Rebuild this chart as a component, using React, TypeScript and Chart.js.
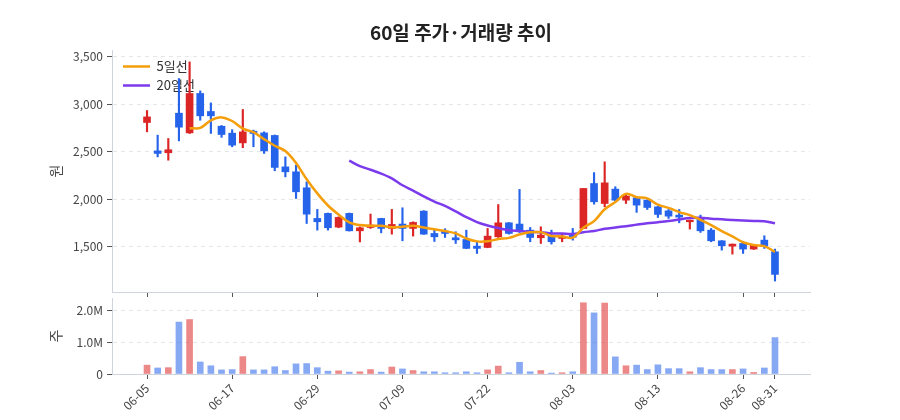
import React, { useEffect, useRef } from "react";
import { Chart, registerables } from "chart.js";

Chart.register(...registerables);

const dates = [
  "06-05", "06-08", "06-09", "06-10", "06-11", "06-12", "06-15", "06-16", "06-17", "06-18",
  "06-19", "06-22", "06-23", "06-24", "06-25", "06-26", "06-29", "06-30", "07-01", "07-02",
  "07-03", "07-06", "07-07", "07-08", "07-09", "07-10", "07-13", "07-14", "07-15", "07-16",
  "07-20", "07-21", "07-22", "07-23", "07-24", "07-27", "07-28", "07-29", "07-30", "07-31",
  "08-03", "08-04", "08-05", "08-06", "08-07", "08-10", "08-11", "08-12", "08-13", "08-14",
  "08-18", "08-19", "08-20", "08-21", "08-24", "08-25", "08-26", "08-27", "08-28", "08-31",
];

const opens = [
  2806, 2508, 2488, 2904, 2697, 3111, 2922, 2767, 2694, 2592,
  2715, 2697, 2670, 2340, 2288, 2120, 1798, 1851, 1707, 1851,
  1668, 1703, 1798, 1693, 1739, 1693, 1875, 1640, 1665, 1595,
  1577, 1507, 1493, 1605, 1752, 1739, 1675, 1595, 1612, 1588,
  1640, 1693, 2165, 1955, 2106, 1990, 2015, 1990, 1920, 1878,
  1833, 1763, 1798, 1675, 1563, 1507, 1535, 1476, 1570, 1448,
];
const highs = [
  2932, 2673, 2638, 3268, 3443, 3138, 3012, 2775, 2731, 2943,
  2726, 2708, 2675, 2445, 2358, 2183, 1893, 1855, 1815, 1855,
  1710, 1844, 1800, 1893, 1910, 1763, 1880, 1675, 1690, 1658,
  1675, 1552, 1693, 1944, 1755, 2103, 1703, 1710, 1675, 1640,
  1693, 2113, 2280, 2393, 2131, 2043, 2026, 1995, 1925, 1892,
  1892, 1782, 1833, 1693, 1565, 1530, 1540, 1520, 1616, 1476,
];
const lows = [
  2708, 2445, 2410, 2613, 2690, 2830, 2691, 2650, 2551, 2541,
  2551, 2481, 2299, 2235, 2008, 1745, 1675, 1675, 1700, 1665,
  1551, 1693, 1647, 1633, 1563, 1612, 1630, 1556, 1598, 1535,
  1480, 1430, 1490, 1598, 1633, 1650, 1553, 1535, 1528, 1553,
  1570, 1690, 1948, 1920, 1983, 1955, 1862, 1892, 1808, 1798,
  1752, 1686, 1651, 1553, 1465, 1423, 1430, 1472, 1483, 1140,
];
const closes = [
  2865, 2481, 2520, 2757, 3111, 2876, 2876, 2680, 2568, 2708,
  2691, 2508, 2334, 2288, 2078, 1843, 1763, 1700, 1809, 1668,
  1700, 1728, 1693, 1735, 1693, 1756, 1633, 1605, 1640, 1573,
  1483, 1483, 1612, 1752, 1640, 1658, 1598, 1623, 1553, 1612,
  1600, 2113, 1973, 2172, 1990, 2033, 1938, 1913, 1840, 1822,
  1812, 1780, 1668, 1563, 1511, 1528, 1476, 1518, 1507, 1210,
];
const volumes = [
  280000, 190000, 200000, 1640000, 1720000, 380000, 260000, 130000, 140000, 550000,
  130000, 130000, 230000, 110000, 320000, 330000, 200000, 90000, 100000, 60000,
  70000, 140000, 60000, 220000, 160000, 110000, 70000, 70000, 40000, 40000,
  70000, 40000, 130000, 250000, 40000, 370000, 70000, 110000, 30000, 40000,
  70000, 2250000, 1930000, 2240000, 540000, 260000, 280000, 140000, 290000, 170000,
  170000, 70000, 200000, 140000, 140000, 140000, 160000, 50000, 190000, 1150000,
];
const ma5 = [
  null, null, null, null, 2747, 2749, 2828, 2860, 2822, 2742,
  2705, 2631, 2562, 2506, 2380, 2210, 2061, 1934, 1839, 1757,
  1728, 1721, 1720, 1705, 1710, 1721, 1702, 1684, 1665, 1641,
  1587, 1557, 1558, 1581, 1594, 1629, 1652, 1654, 1614, 1609,
  1597, 1700, 1770, 1894, 1970, 2056, 2021, 2009, 1943, 1909,
  1865, 1833, 1783, 1728, 1665, 1609, 1548, 1518, 1507, 1446,
];
const ma20 = [
  null, null, null, null, null, null, null, null, null, null,
  null, null, null, null, null, null, null, null, null, 2406,
  2348, 2310, 2269, 2218, 2147, 2091, 2029, 1975, 1929, 1872,
  1812, 1760, 1724, 1697, 1675, 1666, 1658, 1654, 1641, 1639,
  1634, 1653, 1667, 1689, 1703, 1717, 1733, 1748, 1758, 1770,
  1787, 1802, 1805, 1795, 1789, 1782, 1776, 1771, 1768, 1748,
];
const xTickIndex = [0, 8, 16, 24, 32, 40, 48, 56, 59];
const priceTicks = [1500, 2000, 2500, 3000, 3500];
const volumeTicks = [0, 1000000, 2000000];
const seriesNames = ["5일선", "20일선"];
const titleText = "60일 주가·거래량 추이";
const priceAxisTitle = "원";
const volumeAxisTitle = "주";

const FONT = "'Noto Sans CJK KR', 'Noto Sans', sans-serif";
const RED = "#dc2626";
const BLUE = "#2563eb";
const RED_V = "rgba(220,38,38,0.55)";
const BLUE_V = "rgba(37,99,235,0.55)";
const ORANGE = "#f59e0b";
const PURPLE = "#7c3aed";
const GRID = "#e3e6ea";
const AXIS = "#cfd4dc";
const TICKC = "#555";
const LABELC = "#444";
const X_MIN = -3.29;
const X_MAX = 62.29;

const legendInArea = {
  id: "legendInArea",
  afterLayout(chart: any) {
    const l = chart.legend;
    if (!l) return;
    const ca = chart.chartArea;
    l.top = ca.top + 4;
    l.bottom = l.top + l.height;
    l.left = ca.left + 5;
    l.right = l.left + l.width;
  },
};

export default function App() {
  const aRef = useRef<HTMLCanvasElement>(null);
  const bRef = useRef<HTMLCanvasElement>(null);

  useEffect(() => {
    Chart.defaults.font.family = FONT;
    const up = closes.map((c, i) => c >= opens[i]);
    const candleColors = up.map((u) => (u ? RED : BLUE));
    const volColors = up.map((u) => (u ? RED_V : BLUE_V));
    const setXTicks = (s: any) => {
      s.ticks = xTickIndex.map((v) => ({ value: v }));
    };
    const yAxisFit = (s: any) => {
      s.width = 112;
      s.paddingTop = 0;
      s.paddingBottom = 0;
    };

    const a = new Chart(aRef.current as HTMLCanvasElement, {
      type: "bar",
      plugins: [legendInArea],
      data: {
        datasets: [
          {
            type: "line",
            label: seriesNames[0],
            data: ma5.map((v, i) => ({ x: i, y: v })),
            borderColor: ORANGE,
            backgroundColor: ORANGE,
            borderWidth: 2.5,
            pointRadius: 0,
            tension: 0.35,
            order: 0,
          } as any,
          {
            type: "line",
            label: seriesNames[1],
            data: ma20.map((v, i) => ({ x: i, y: v })),
            borderColor: PURPLE,
            backgroundColor: PURPLE,
            borderWidth: 2.5,
            pointRadius: 0,
            tension: 0.35,
            order: 0,
          } as any,
          {
            type: "bar",
            label: "wick",
            data: highs.map((h, i) => ({ x: i, y: [lows[i], h] })),
            backgroundColor: candleColors,
            barThickness: 1.5,
            grouped: false,
            order: 2,
          } as any,
          {
            type: "bar",
            label: "body",
            data: opens.map((o, i) => ({ x: i, y: [o, closes[i]] })),
            backgroundColor: candleColors,
            barThickness: 7,
            minBarLength: 1,
            grouped: false,
            order: 1,
          } as any,
        ],
      },
      options: {
        responsive: false,
        maintainAspectRatio: false,
        animation: false,
        layout: { padding: { top: 50, right: 90, left: 0, bottom: 0 } },
        plugins: {
          tooltip: { enabled: false },
          legend: {
            position: "chartArea" as any,
            align: "start",
            labels: {
              usePointStyle: true,
              pointStyle: "line",
              pointStyleWidth: 27,
              padding: 6,
              color: "#333",
              font: { size: 13, family: FONT },
              filter: (item: any) => item.datasetIndex < 2,
            },
          },
        },
        scales: {
          x: {
            type: "linear",
            min: X_MIN,
            max: X_MAX,
            offset: false,
            afterBuildTicks: setXTicks,
            afterFit: (s: any) => {
              s.height = 8;
              s.paddingLeft = 0;
              s.paddingRight = 0;
            },
            ticks: { display: false, autoSkip: false },
            grid: {
              display: true,
              drawOnChartArea: false,
              drawTicks: true,
              tickLength: 5,
              tickColor: TICKC,
              offset: false,
            },
            border: { display: true, color: AXIS, width: 1 },
          } as any,
          y: {
            min: 1025,
            max: 3568,
            afterBuildTicks: (s: any) => {
              s.ticks = priceTicks.map((v) => ({ value: v }));
            },
            afterFit: yAxisFit,
            ticks: {
              padding: 4,
              color: LABELC,
              font: { size: 12 },
              callback: (v: any) => Number(v).toLocaleString("en-US"),
            },
            grid: { color: GRID, tickColor: TICKC, tickLength: 5, drawTicks: true },
            border: { color: AXIS, width: 1, dash: [4, 4] },
            title: {
              display: true,
              text: priceAxisTitle,
              color: LABELC,
              font: { size: 14 },
              padding: { top: 47, bottom: 0 },
            },
          } as any,
        },
      },
    });

    const b = new Chart(bRef.current as HTMLCanvasElement, {
      type: "bar",
      data: {
        datasets: [
          {
            label: "volume",
            data: volumes.map((v, i) => ({ x: i, y: v })),
            backgroundColor: volColors,
            barThickness: 6,
            grouped: false,
          } as any,
        ],
      },
      options: {
        responsive: false,
        maintainAspectRatio: false,
        animation: false,
        layout: { padding: { top: 3, right: 90, left: 0, bottom: 0 } },
        plugins: { tooltip: { enabled: false }, legend: { display: false } },
        scales: {
          x: {
            type: "linear",
            min: X_MIN,
            max: X_MAX,
            offset: false,
            afterBuildTicks: setXTicks,
            afterFit: (s: any) => {
              s.height = 46;
              s.paddingLeft = 0;
              s.paddingRight = 0;
            },
            ticks: {
              autoSkip: false,
              minRotation: 45,
              maxRotation: 45,
              padding: 2,
              color: LABELC,
              font: { size: 12 },
              callback: (v: any) => dates[v] ?? "",
            },
            grid: {
              display: true,
              drawOnChartArea: false,
              drawTicks: true,
              tickLength: 5,
              tickColor: TICKC,
              offset: false,
            },
            border: { display: true, color: AXIS, width: 1 },
          } as any,
          y: {
            min: 0,
            max: 2400000,
            afterBuildTicks: (s: any) => {
              s.ticks = volumeTicks.map((v) => ({ value: v }));
            },
            afterFit: yAxisFit,
            ticks: {
              padding: 4,
              color: LABELC,
              font: { size: 12 },
              callback: (v: any) => (Number(v) === 0 ? "0" : (Number(v) / 1000000).toFixed(1) + "M"),
            },
            grid: { color: GRID, tickColor: TICKC, tickLength: 5, drawTicks: true },
            border: { color: AXIS, width: 1, dash: [4, 4] },
            title: {
              display: true,
              text: volumeAxisTitle,
              color: LABELC,
              font: { size: 14 },
              padding: { top: 47, bottom: 0 },
            },
          } as any,
        },
      },
    });

    return () => {
      a.destroy();
      b.destroy();
    };
  }, []);

  return (
    <div
      style={{
        position: "fixed",
        left: 0,
        top: 0,
        width: 900,
        height: 420,
        background: "#fff",
        overflow: "hidden",
      }}
    >
      <canvas
        ref={aRef}
        width={900}
        height={300}
        style={{ position: "absolute", left: 0, top: 0, width: 900, height: 300 }}
      />
      <canvas
        ref={bRef}
        width={900}
        height={125}
        style={{ position: "absolute", left: 0, top: 295, width: 900, height: 125 }}
      />
      <div
        style={{
          position: "absolute",
          left: 112,
          width: 698,
          top: 20,
          textAlign: "center",
          fontFamily: FONT,
          fontWeight: 700,
          fontSize: 19,
          lineHeight: "24px",
          color: "#222",
        }}
      >
        {titleText}
      </div>
    </div>
  );
}
